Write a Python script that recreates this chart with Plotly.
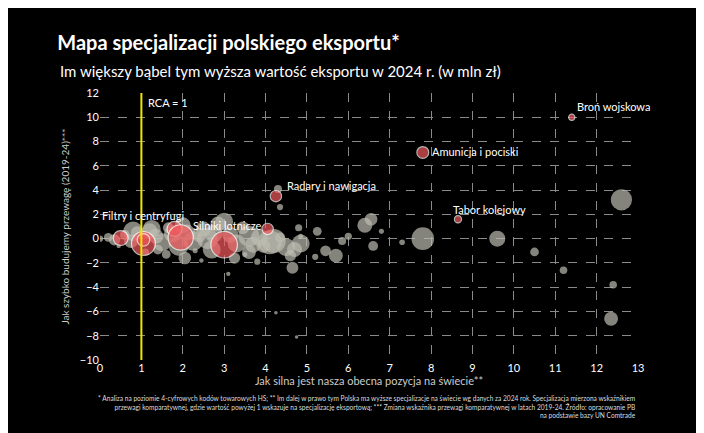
import plotly.graph_objects as go

# gray points: position today (RCA 2024), change 2019-24, export value (mln zł)
gray_x = [0.0, 0.2, 0.35, 0.6, 0.75, 0.9, 1.2, 1.35, 1.5, 1.65, 1.75, 2.1, 2.25, 2.4, 2.5, 2.6, 2.75, 2.85,
          3.15, 3.3, 3.45, 3.6, 3.7, 3.85, 3.95, 4.2, 4.35, 4.5, 4.7, 0.45, 1.1, 1.4, 1.6, 2.05, 2.3,
          2.45, 3.1, 3.5, 3.8, 4.1, 4.3, 4.35, 4.6, 4.65, 4.8, 4.85, 4.85, 5.25, 5.2, 5.45, 5.7, 5.85,
          6.0, 6.4, 6.55, 6.6, 6.8, 7.3, 7.8, 9.6, 10.5, 11.2, 12.6, 12.4, 12.35, 4.25, 4.75, 1.9, 2.7,
          3.25, 1.25, 0.8, 2.0, 3.0, 3.6]
gray_y = [0.0, 0.1, -0.1, 0.3, -0.2, 0.5, 0.6, 0.2, -0.3, 0.9, 0.4, 0.5, -0.2, 0.3, 0.8, 0.0, 0.4, 1.2,
          0.3, -0.4, 0.9, 0.2, -0.5, 0.1, -0.6, -0.2, 0.1, -0.7, -0.9, -0.6, -1.1, -0.9, -1.3, -1.6, -1.0,
          -1.8, -2.9, -1.3, -1.9, -0.3, 4.1, 2.6, -1.4, -2.4, 0.9, 0.2, -0.4, 0.6, -1.5, -1.0, -1.4, -0.2,
          0.2, 1.1, 1.6, -0.6, 0.6, -0.3, 0.0, 0.0, -1.1, -2.6, 3.2, -3.8, -6.6, -6.1, -8.1, -0.6, -0.9,
          -1.6, 0.8, 0.6, 1.1, 1.4, -1.1]
gray_v = [60, 120, 200, 150, 300, 250, 400, 350, 500, 180, 450, 400, 600, 300, 350, 700, 500, 350,
          400, 500, 250, 700, 400, 450, 300, 900, 150, 500, 350, 30, 80, 150, 120, 250, 40,
          30, 30, 40, 60, 900, 100, 60, 200, 220, 80, 40, 500, 120, 60, 180, 300, 100,
          80, 350, 250, 150, 40, 50, 800, 400, 120, 90, 700, 90, 300, 10, 10, 600, 500,
          200, 500, 600, 400, 500, 300]

# highlighted sectors
red_x = [11.4, 7.8, 8.65, 4.25, 0.5, 1.05, 1.05, 1.8, 1.95, 3.0, 4.05]
red_y = [10.0, 7.1, 1.6, 3.5, 0.05, -0.4, -0.1, 0.8, 0.1, -0.5, 0.8]
red_v = [60, 220, 80, 200, 350, 900, 250, 350, 1000, 1100, 200]

labels = ["Broń wojskowa", "Amunicja i pociski", "Tabor kolejowy", "Radary i nawigacja",
          "Filtry i centryfugi", "Silniki lotnicze"]
label_x = [12.4, 9.07, 9.4, 5.6, 1.05, 3.07]
label_y = [10.9, 7.2, 2.4, 4.4, 1.9, 1.1]


def sz(v):
    return [max(3.5, (a ** 0.5) * 0.8) for a in v]


fig = go.Figure()
fig.add_trace(go.Scatter(x=gray_x, y=gray_y, mode="markers",
                         marker=dict(size=sz(gray_v), color="#bcbcb0", line=dict(width=0))))
fig.add_trace(go.Scatter(x=red_x, y=red_y, mode="markers",
                         marker=dict(size=sz(red_v), color="#f4595c", line=dict(width=1.2, color="white"))))

fig.add_shape(type="line", x0=1, x1=1, y0=-10, y1=12, line=dict(color="#f2e600", width=2))
fig.add_annotation(x=1.1, y=11.2, text="RCA = 1", showarrow=False, xanchor="left",
                   font=dict(color="white", size=11))
for t, x, y in zip(labels, label_x, label_y):
    fig.add_annotation(x=x, y=y, text=t, showarrow=False, font=dict(color="white", size=11))

fig.update_layout(
    width=704, height=433, paper_bgcolor="black", plot_bgcolor="black",
    font=dict(family="Lato", color="white", size=11), showlegend=False,
    margin=dict(l=92, r=74, t=85, b=81, autoexpand=False),
    title=dict(text="<b>Mapa specjalizacji polskiego eksportu*</b>", x=0.07, xanchor="left",
               y=0.92, yanchor="middle", font=dict(size=20, color="white")),
)
fig.add_annotation(x=-42 / 538, y=1.125, xref="paper", yref="paper", xanchor="left", showarrow=False,
                   text="Im większy bąbel tym wyższa wartość eksportu w 2024 r. (w mln zł)",
                   font=dict(size=15, color="white"))
fig.update_xaxes(range=[0, 13], dtick=1, showgrid=True, gridcolor="#8a8a8a", griddash="dash",
                 gridwidth=1, zeroline=False, tickfont=dict(size=11, color="white"), automargin=False,
                 title=dict(text="Jak silna jest nasza obecna pozycja na świecie**",
                            font=dict(size=11, color="#cccccc"), standoff=0))
fig.update_yaxes(range=[-10, 12], dtick=2, showgrid=True, gridcolor="#8a8a8a", griddash="dash",
                 gridwidth=1, zeroline=False, tickfont=dict(size=11, color="white"), automargin=False,
                 title=dict(text="Jak szybko budujemy przewagę (2019-24)***",
                            font=dict(size=10, color="#cccccc"), standoff=8))
fig.add_annotation(x=1.0, y=-0.12, xref="paper", yref="paper", xanchor="right", yanchor="top",
                   showarrow=False, align="right", font=dict(size=6.6, color="#dddddd"),
                   text="* Analiza na poziomie 4-cyfrowych kodów towarowych HS; ** Im dalej w prawo tym Polska ma wyższe specjalizacje na świecie wg danych za 2024 rok. Specjalizacja mierzona wskaźnikiem<br>"
                        "przewagi komparatywnej, gdzie wartość powyżej 1 wskazuje na specjalizację eksportową; *** Zmiana wskaźnika przewagi komparatywnej w latach 2019-24. Źródło: opracowanie PB<br>"
                        "na podstawie bazy UN Comtrade")

fig.write_html("out.html")
